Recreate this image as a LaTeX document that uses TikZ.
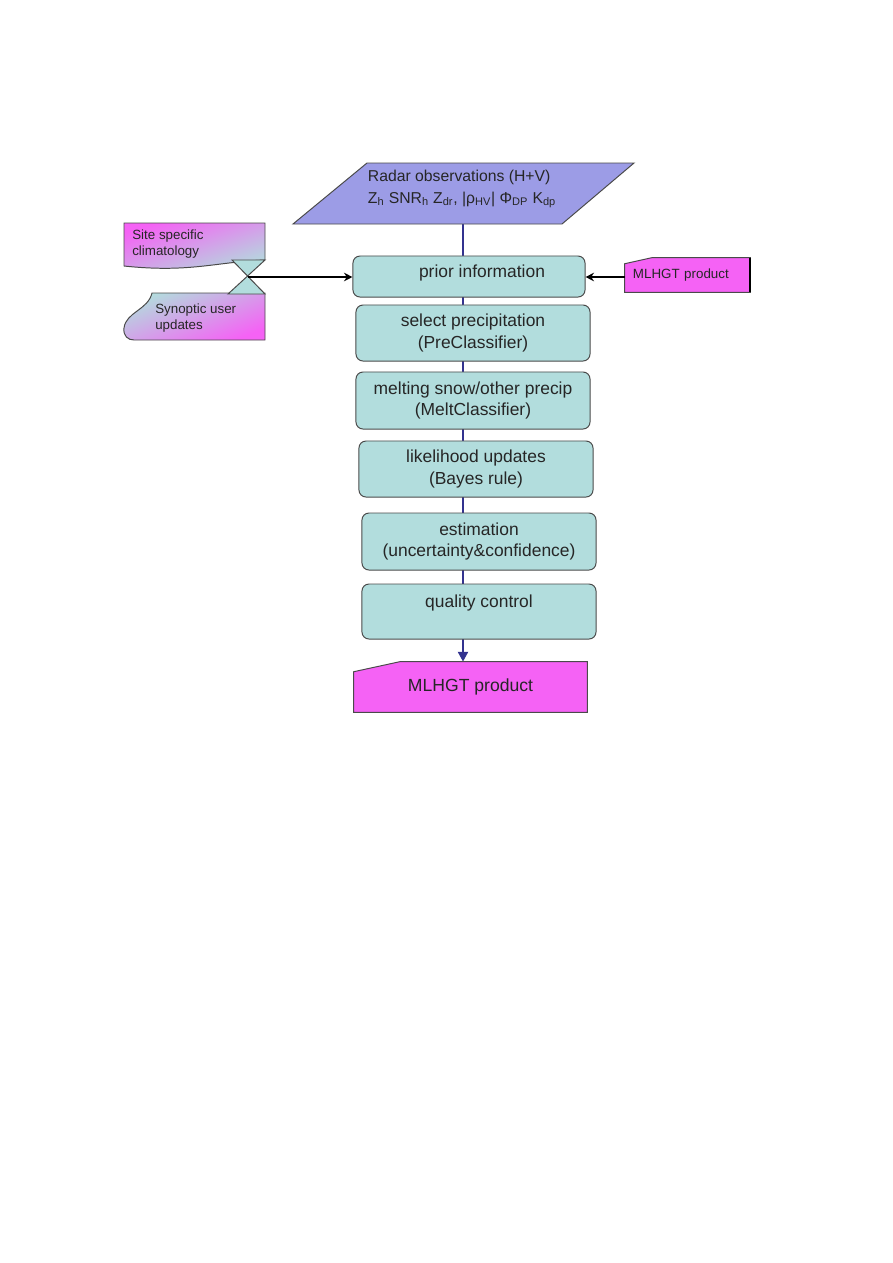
\documentclass[tikz,border=0pt]{standalone}
\usepackage{fontspec}
\setmainfont{Liberation Sans}
\definecolor{boxteal}{HTML}{B2DDDD}
\definecolor{radarblue}{HTML}{9C9CE6}
\definecolor{prodpink}{HTML}{F562F5}
\definecolor{linenavy}{HTML}{33338F}
\definecolor{edgegray}{HTML}{4A4A4A}
\usetikzlibrary{positioning, backgrounds, arrows.meta}
\tikzset{
	procnode/.style={
			rectangle,
			rounded corners=5pt,
			draw=edgegray,
			line width=0.7pt,
			fill=boxteal,
			text=black!85,
			minimum width=5.85cm,
			minimum height=1.4cm,
			inner sep=2pt,
			align=center,
			font=\fontsize{12.4}{15.6}\selectfont
		},
	prodnode/.style={
			rectangle,
			text=black!85,
			inner sep=2pt
		},
	prodshape/.style={
			draw=edgegray,
			line width=0.7pt,
			fill=prodpink
		},
	radarshape/.style={
			draw=edgegray,
			line width=0.7pt,
			fill=radarblue
		},
	docshape/.style={
			draw=edgegray,
			line width=0.7pt
		},
	doctext/.style={
			anchor=west,
			align=left,
			inner sep=0pt,
			text=black!85,
			font=\fontsize{9.5}{11.4}\selectfont
		},
	flowline/.style={
			draw=linenavy,
			line width=2pt,
			-{Triangle[length=7pt, width=7pt]}
		},
	feedarrow/.style={
			draw=black,
			line width=1.6pt,
			-{Stealth[length=6pt, width=6pt]}
		}
}
\begin{document}
\begin{tikzpicture}[x=0.025cm, y=-0.025cm]
\useasboundingbox (0,0) rectangle (893,1263);

% radar observations
\draw[radarshape] (293,224) -- (367,163) -- (634,163) -- (562,224) -- cycle;
\node[align=left, text=black!85, font=\fontsize{11.2}{15.6}\selectfont] (radar) at (462,189)
  {Radar observations (H+V)\\
   Z\textsubscript{h} SNR\textsubscript{h} Z\textsubscript{dr}, |ρ\textsubscript{HV}| Φ\textsubscript{DP} K\textsubscript{dp}};
\coordinate (radarbase) at (463,224);

% processing chain
\node[procnode, minimum width=5.8cm, minimum height=1.025cm, text depth=8pt] (prior) at (469,276.5) {\hspace*{0.65cm}prior information};
\node[procnode] (presel) at (473,333) {select precipitation\\(PreClassifier)};
\node[procnode, minimum height=1.425cm] (melt) at (473,400.5) {melting snow/other precip\\(MeltClassifier)};
\node[procnode] (bayes) at (476,469) {likelihood updates\\(Bayes rule)};
\node[procnode, minimum height=1.425cm] (estim) at (479,541.5) {estimation\\(uncertainty\&confidence)};
\node[procnode, minimum height=1.375cm, text depth=15pt] (qc) at (479,611.5) {quality control};

\node[prodnode, minimum width=5.825cm, minimum height=1.25cm,
      font=\fontsize{12.5}{15}\selectfont] (out) at (470.5,687) {MLHGT product};

% side inputs
\draw[docshape, top color=prodpink, middle color=boxteal!55!prodpink, bottom color=boxteal, shading angle=18]
  (124,223) -- (265,223) -- (265,260) .. controls (215,262) and (190,273) .. (124,266) -- cycle;
\node[doctext] (site) at (132,244) {Site specific\\climatology};

\draw[docshape, top color=boxteal, middle color=boxteal!80!prodpink, bottom color=prodpink, shading angle=22]
  (265,293) -- (152,293) .. controls (148,310) and (126,312) .. (124,328)
  .. controls (123,336) and (128,340) .. (134,340) -- (265,340) -- cycle;
\node[doctext] (synop) at (155,318) {Synoptic user\\updates};

\draw[docshape, fill=boxteal] (232,260) -- (265,260) -- (228,294) -- (265,294) -- cycle;
\coordinate (collate) at (247.5,277);

\node[prodnode, text width=2.725cm, inner xsep=0.2cm, minimum height=0.85cm, align=left,
      font=\fontsize{9.5}{11.4}\selectfont] (mlright) at (687.5,275) {MLHGT product};

\draw[feedarrow] (collate) -- (collate -| prior.west);
\draw[feedarrow] (mlright.west |- collate) -- (collate -| prior.east);

\begin{scope}[on background layer]
\draw[flowline] (radarbase) -- (radarbase |- out.north);
\draw[prodshape] ([yshift=-0.25cm]out.north west) -- ([xshift=1.15cm]out.north west)
  -- (out.north east) -- (out.south east) -- (out.south west) -- cycle;
\draw[prodshape] ([yshift=-0.15cm]mlright.north west) -- ([xshift=0.675cm]mlright.north west)
  -- (mlright.north east) -- (mlright.south east) -- (mlright.south west) -- cycle;
\end{scope}
\draw[line width=1.5pt] (mlright.north east) -- (mlright.south east);
\end{tikzpicture}
\end{document}
